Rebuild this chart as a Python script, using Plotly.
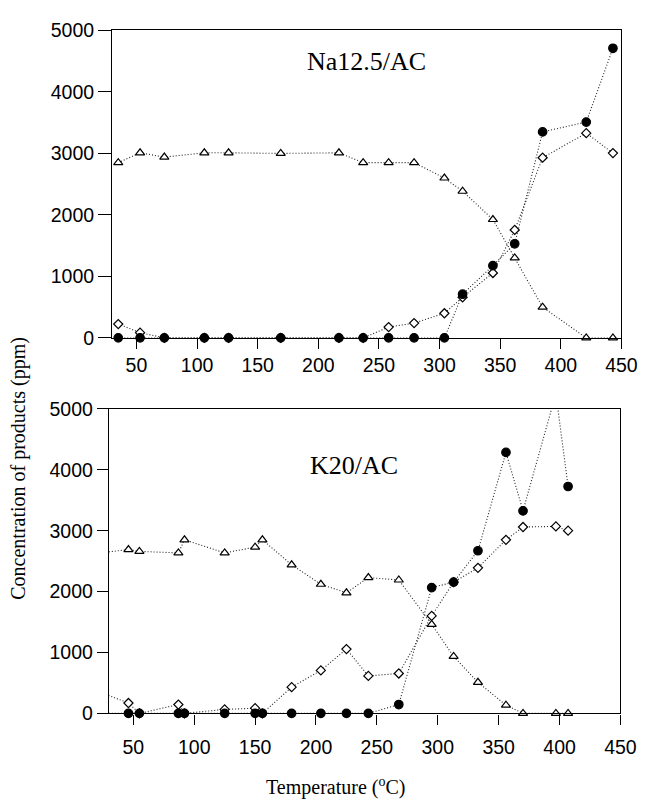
import plotly.graph_objects as go

# ---------------- data ----------------
top_T = [35, 53, 73, 106, 126, 169, 217, 237, 258, 279, 304, 319, 344, 362, 385, 421, 443]
top_tri = [2850, 3010, 2940, 3010, 3010, 3000, 3010, 2850, 2850, 2850, 2600, 2385, 1925, 1300, 500, 0, 0]
top_dia = [225, 85, 0, 0, 0, 0, 0, 0, 175, 240, 400, 660, 1055, 1755, 2930, 3330, 3005]
top_circ = [0, 0, 0, 0, 0, 0, 0, 0, 0, 0, 0, 710, 1175, 1530, 3350, 3510, 4710]

bot_T = [25, 46, 55, 87, 92, 125, 150, 156, 180, 204, 225, 243, 268, 295, 313, 333, 356, 370, 397, 407]
bot_tri = [2640, 2690, 2660, 2635, 2850, 2635, 2730, 2850, 2440, 2120, 1980, 2230, 2190, 1460, 935, 510, 135, 0, 0, 0]
bot_dia = [330, 170, 0, 145, 0, 65, 85, 0, 430, 705, 1055, 615, 655, 1600, 2155, 2390, 2850, 3060, 3070, 3000]
bot_circ = [0, 0, 0, 0, 0, 0, 0, 0, 0, 0, 0, 0, 145, 2065, 2155, 2670, 4285, 3325, 5250, 3725]

x_ticks = [50, 100, 150, 200, 250, 300, 350, 400, 450]
y_ticks = [0, 1000, 2000, 3000, 4000, 5000]
x_range = [30, 450]
y_range = [0, 5000]
panel_labels = ["Na12.5/AC", "K20/AC"]

W, H = 654, 809


def px(x):
    return x / W


def py(y):
    return 1 - y / H


fig = go.Figure()

series_style = [
    ("triangle-up", "white", 8),
    ("diamond", "white", 7),
    ("circle", "black", 8.5),
]


def add_panel(T, series, xa, ya):
    for (sym, fill, size), vals in zip(series_style, series):
        fig.add_trace(go.Scatter(
            x=T, y=vals, mode="lines", xaxis=xa, yaxis=ya,
            line=dict(color="#222222", width=1.1, dash="1px,2px"),
            showlegend=False, hoverinfo="skip"))
    for (sym, fill, size), vals in zip(series_style, series):
        pts = [(t, v) for t, v in zip(T, vals)
               if x_range[0] <= t <= x_range[1] and y_range[0] <= v <= y_range[1]]
        fig.add_trace(go.Scatter(
            x=[p[0] for p in pts], y=[p[1] for p in pts], mode="markers",
            xaxis=xa, yaxis=ya, cliponaxis=False,
            marker=dict(symbol=sym, size=size, color=fill,
                        line=dict(color="black", width=1.2)),
            showlegend=False))


add_panel(top_T, [top_tri, top_dia, top_circ], "x", "y")
add_panel(bot_T, [bot_tri, bot_dia, bot_circ], "x2", "y2")

tickfont = dict(family="Liberation Sans, Arial, sans-serif", size=19.5, color="black")
axcommon = dict(showgrid=False, zeroline=False, showline=True, linecolor="black",
                linewidth=1.3, mirror=True, ticks="outside", tickcolor="black",
                tickwidth=1.3, tickfont=tickfont, ticklabeloverflow="allow")

fig.update_layout(
    width=W, height=H, margin=dict(l=0, r=0, t=0, b=0),
    paper_bgcolor="white", plot_bgcolor="white",
    xaxis=dict(domain=[px(115), px(637)], range=x_range, tickvals=x_ticks, ticklen=10,
               anchor="y", ticklabelstandoff=0, **axcommon),
    yaxis=dict(domain=[py(336), py(20)], range=y_range, tickvals=y_ticks,
               ticklen=13, anchor="x", ticklabelstandoff=0, **axcommon),
    xaxis2=dict(domain=[px(111.7), px(636)], range=x_range, tickvals=x_ticks, ticklen=10,
                anchor="y2", ticklabelstandoff=6, **axcommon),
    yaxis2=dict(domain=[py(722), py(409)], range=y_range, tickvals=y_ticks,
                ticklen=11, anchor="x2", ticklabelstandoff=0, **axcommon),
)

serif = "Liberation Serif, Times New Roman, serif"
fig.add_annotation(text=panel_labels[0], x=240, y=4494, xref="x", yref="y",
                   showarrow=False, font=dict(family=serif, size=26, color="black"))
fig.add_annotation(text=panel_labels[1], x=231, y=4066, xref="x2", yref="y2",
                   showarrow=False, font=dict(family=serif, size=26, color="black"))
fig.add_annotation(text="Temperature (<sup>o</sup>C)", x=px(344), y=py(797),
                   xref="paper", yref="paper", xanchor="center", yanchor="middle",
                   showarrow=False, font=dict(family=serif, size=20, color="black"))
fig.add_annotation(text="Concentration of products (ppm)", x=px(19), y=py(470),
                   xref="paper", yref="paper", xanchor="center", yanchor="middle",
                   showarrow=False, textangle=-90,
                   font=dict(family=serif, size=20, color="black"))

fig.write_html("out.html")
